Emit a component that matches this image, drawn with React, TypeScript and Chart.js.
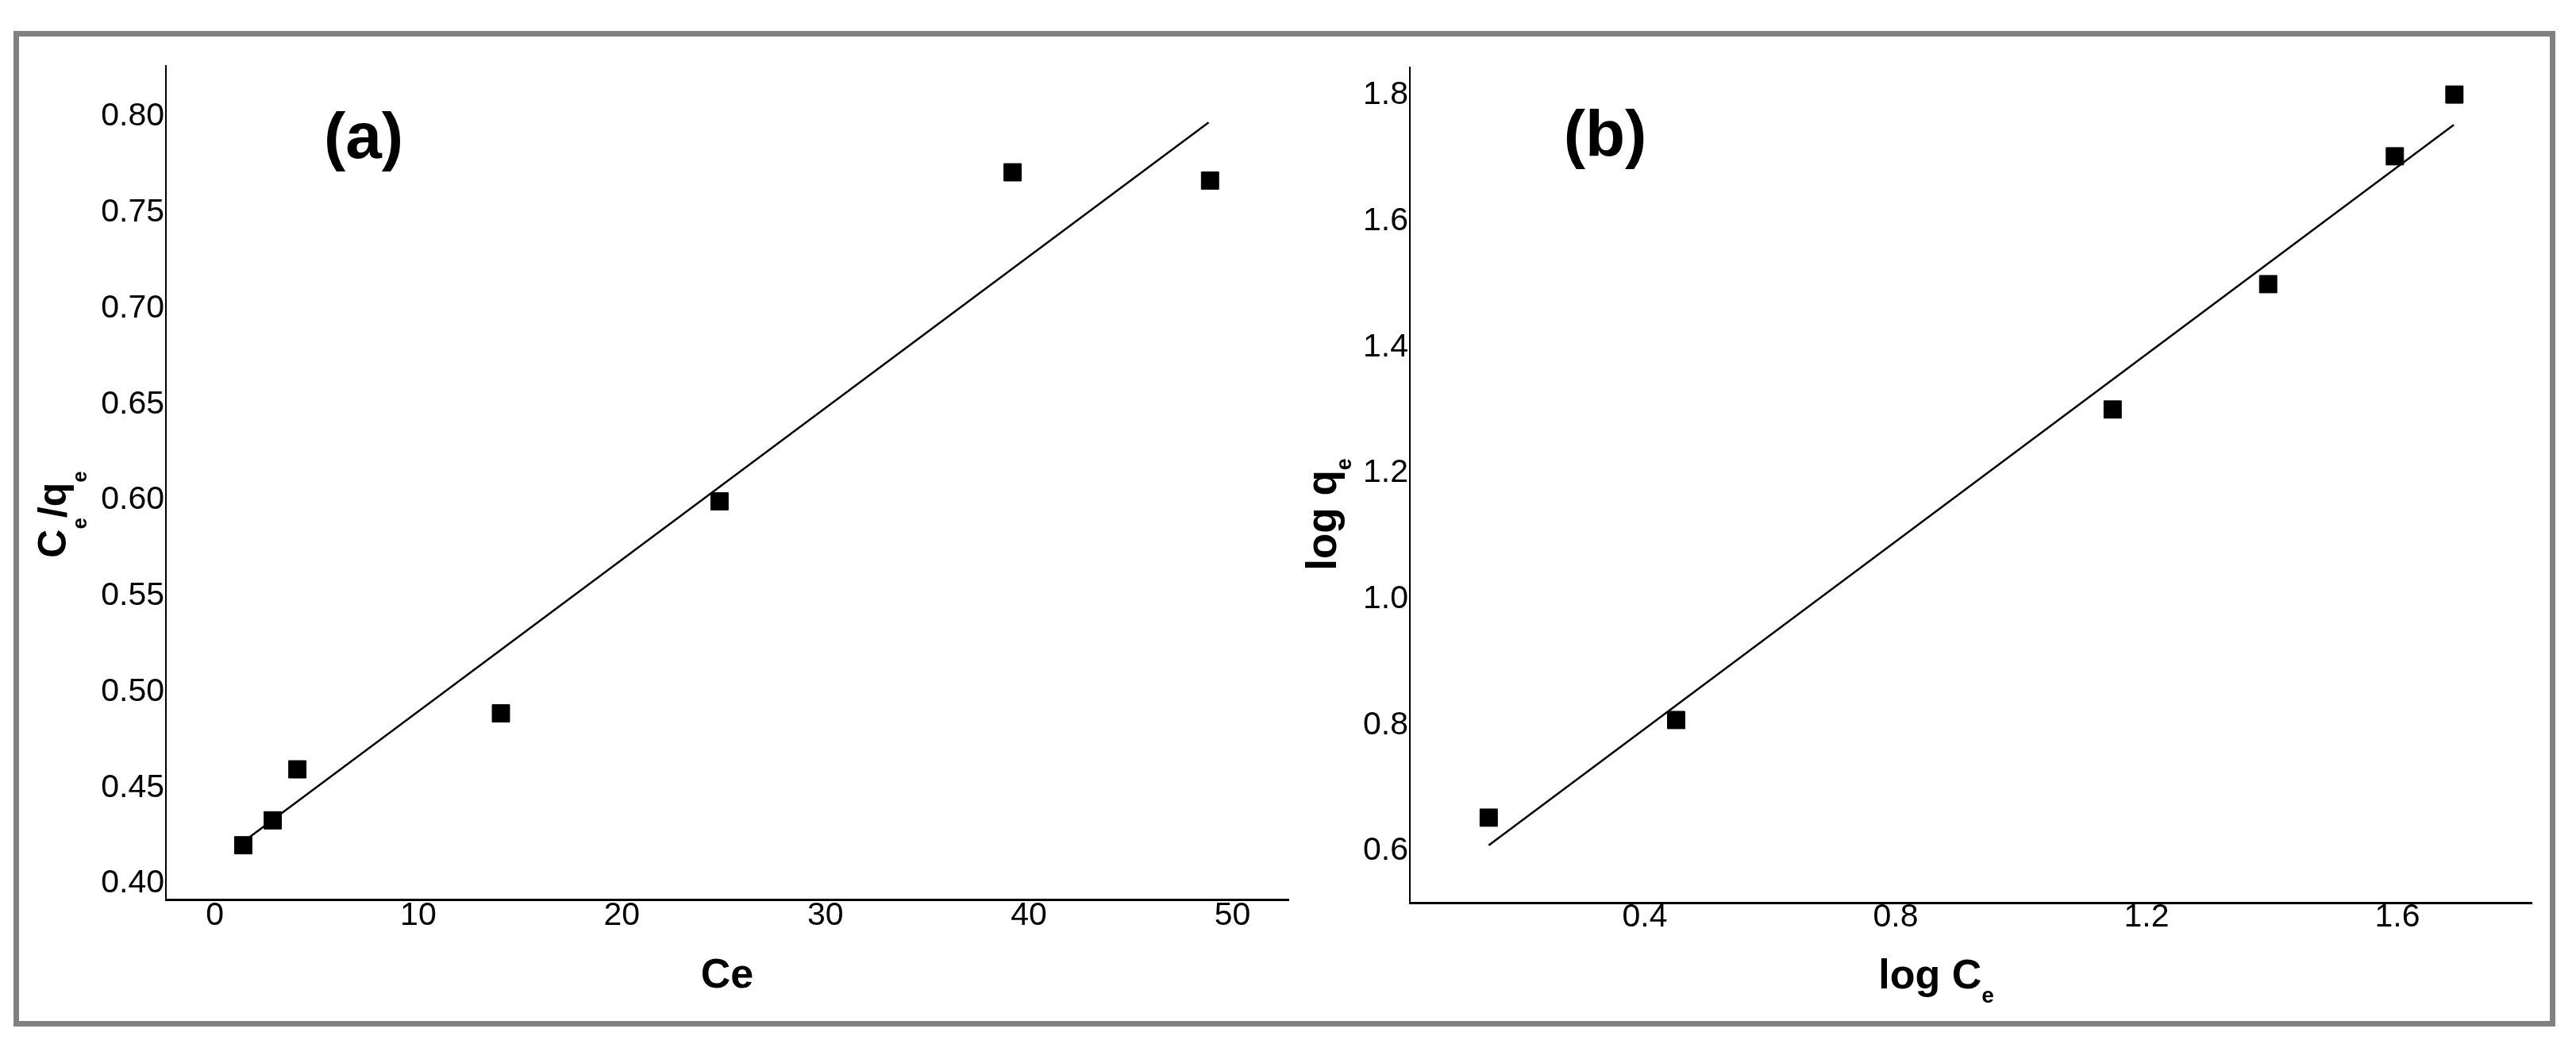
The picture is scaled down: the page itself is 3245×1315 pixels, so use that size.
import React, { useEffect, useRef } from 'react';
import { Chart, registerables } from 'chart.js';

Chart.register(...registerables);

const FONT = '"Liberation Sans", Arial, Helvetica, sans-serif';

// ---- Panel (a): Langmuir ----
const langmuirCe = [1.4, 2.85, 4.06, 14.06, 24.8, 39.2, 48.9];
const langmuirCeQe = [0.42, 0.433, 0.4596, 0.4888, 0.5994, 0.771, 0.7667];
const langmuirFitX = [1.64, 48.83];
const langmuirFitY = [0.4237, 0.797];
const langmuirXTicks = [0, 10, 20, 30, 40, 50];
const langmuirYTicks = [0.4, 0.45, 0.5, 0.55, 0.6, 0.65, 0.7, 0.75, 0.8];

// ---- Panel (b): Freundlich ----
const freundlichLogCe = [0.151, 0.45, 1.146, 1.394, 1.596, 1.691];
const freundlichLogQe = [0.653, 0.808, 1.301, 1.5, 1.703, 1.801];
const freundlichFitX = [0.151, 1.69];
const freundlichFitY = [0.609, 1.753];
const freundlichXTicks = [0.4, 0.8, 1.2, 1.6];
const freundlichYTicks = [0.6, 0.8, 1.0, 1.2, 1.4, 1.6, 1.8];

type Seg = { t: string; sub?: boolean };
type TextSpec = {
  segs: Seg[];
  x: number;
  y: number;
  size: number;
  subSize?: number;
  subDrop?: number;
  rotate?: boolean;
};

function drawRich(ctx: CanvasRenderingContext2D, spec: TextSpec) {
  ctx.save();
  ctx.fillStyle = '#000';
  ctx.textBaseline = 'alphabetic';
  ctx.textAlign = 'left';
  const fMain = `bold ${spec.size}px ${FONT}`;
  const fSub = `bold ${spec.subSize || spec.size}px ${FONT}`;
  let total = 0;
  const widths = spec.segs.map((s) => {
    ctx.font = s.sub ? fSub : fMain;
    const w = ctx.measureText(s.t).width;
    total += w;
    return w;
  });
  ctx.translate(spec.x, spec.y);
  if (spec.rotate) ctx.rotate(-Math.PI / 2);
  let cx = -total / 2;
  spec.segs.forEach((s, i) => {
    ctx.font = s.sub ? fSub : fMain;
    ctx.fillText(s.t, cx, s.sub ? spec.subDrop || 0 : 0);
    cx += widths[i];
  });
  ctx.restore();
}

type PanelProps = {
  left: number;
  width: number;
  xData: number[];
  yData: number[];
  fitX: number[];
  fitY: number[];
  xTicks: number[];
  yTicks: number[];
  xMin: number;
  xMax: number;
  yMin: number;
  yMax: number;
  xFmt: (v: number) => string;
  yFmt: (v: number) => string;
  yAxisWidth: number;
  padRight: number;
  padTop: number;
  padBottom: number;
  xLabelPad: number;
  texts: TextSpec[];
};

function Panel(p: PanelProps) {
  const ref = useRef<HTMLCanvasElement | null>(null);
  useEffect(() => {
    if (!ref.current) return;
    const textPlugin = {
      id: 'richText',
      afterDraw(chart: any) {
        p.texts.forEach((t) => drawRich(chart.ctx, t));
      },
    };
    const chart = new Chart(ref.current, {
      type: 'scatter',
      data: {
        datasets: [
          {
            data: p.xData.map((x, i) => ({ x, y: p.yData[i] })),
            pointStyle: 'rect',
            pointRadius: 15.5,
            pointBackgroundColor: '#000',
            pointBorderColor: '#000',
            pointBorderWidth: 1,
            showLine: false,
          },
          {
            data: p.fitX.map((x, i) => ({ x, y: p.fitY[i] })),
            showLine: true,
            pointRadius: 0,
            borderColor: '#000',
            borderWidth: 2.5,
            fill: false,
          },
        ],
      },
      options: {
        animation: false,
        responsive: false,
        maintainAspectRatio: false,
        layout: {
          padding: { left: 0, right: p.padRight, top: p.padTop, bottom: p.padBottom },
        },
        plugins: { legend: { display: false }, tooltip: { enabled: false } },
        scales: {
          x: {
            type: 'linear',
            min: p.xMin,
            max: p.xMax,
            grid: { display: false, drawTicks: false },
            border: { display: true, color: '#000', width: 3 },
            afterBuildTicks: (s: any) => {
              s.ticks = p.xTicks.map((v) => ({ value: v }));
            },
            afterFit: (s: any) => {
              s.height = 100;
            },
            ticks: {
              color: '#000',
              padding: p.xLabelPad,
              maxRotation: 0,
              autoSkip: false,
              font: { family: FONT, size: 41, lineHeight: 1 },
              callback: (v: any) => p.xFmt(Number(v)),
            },
          },
          y: {
            type: 'linear',
            min: p.yMin,
            max: p.yMax,
            grid: { display: false, drawTicks: false },
            border: { display: true, color: '#000', width: 2 },
            afterBuildTicks: (s: any) => {
              s.ticks = p.yTicks.map((v) => ({ value: v }));
            },
            afterFit: (s: any) => {
              s.width = p.yAxisWidth;
            },
            ticks: {
              color: '#000',
              padding: 2,
              autoSkip: false,
              font: { family: FONT, size: 41, lineHeight: 1 },
              callback: (v: any) => p.yFmt(Number(v)),
            },
          },
        },
      } as any,
      plugins: [textPlugin],
    });
    return () => chart.destroy();
  }, []);
  return (
    <canvas
      ref={ref}
      width={p.width}
      height={1315}
      style={{ position: 'absolute', left: p.left, top: 0, width: p.width, height: 1315 }}
    />
  );
}

export default function App() {
  const bLeft = 1630;
  return (
    <div
      style={{
        position: 'absolute',
        left: 0,
        top: 0,
        width: 3245,
        height: 1315,
        background: '#fff',
        overflow: 'hidden',
      }}
    >
      <div
        style={{
          position: 'absolute',
          left: 17,
          top: 39,
          width: 3202,
          height: 1254,
          border: '7px solid #808080',
          boxSizing: 'border-box',
        }}
      />
      <Panel
        left={0}
        width={1640}
        xData={langmuirCe}
        yData={langmuirCeQe}
        fitX={langmuirFitX}
        fitY={langmuirFitY}
        xTicks={langmuirXTicks}
        yTicks={langmuirYTicks}
        xMin={-2.4}
        xMax={52.77}
        yMin={0.3917}
        yMax={0.8265}
        xFmt={(v) => String(v)}
        yFmt={(v) => v.toFixed(2)}
        yAxisWidth={209}
        padRight={16}
        padTop={83}
        padBottom={82}
        xLabelPad={0}
        texts={[
          { segs: [{ t: '(a)' }], x: 458, y: 199, size: 82 },
          { segs: [{ t: 'Ce' }], x: 916, y: 1244, size: 52 },
          {
            segs: [{ t: 'C' }, { t: 'e', sub: true }, { t: '/' }, { t: 'q' }, { t: 'e', sub: true }],
            x: 83,
            y: 648,
            size: 50,
            subSize: 26,
            subDrop: 26,
            rotate: true,
          },
        ]}
      />
      <Panel
        left={bLeft}
        width={1615}
        xData={freundlichLogCe}
        yData={freundlichLogQe}
        fitX={freundlichFitX}
        fitY={freundlichFitY}
        xTicks={freundlichXTicks}
        yTicks={freundlichYTicks}
        xMin={0.0253}
        xMax={1.814}
        yMin={0.518}
        yMax={1.844}
        xFmt={(v) => v.toFixed(1)}
        yFmt={(v) => v.toFixed(1)}
        yAxisWidth={146}
        padRight={56}
        padTop={85}
        padBottom={78}
        xLabelPad={-2}
        texts={[
          { segs: [{ t: '(b)' }], x: 2022 - bLeft, y: 196, size: 82 },
          {
            segs: [{ t: 'log C' }, { t: 'e', sub: true }],
            x: 2439 - bLeft,
            y: 1245,
            size: 52,
            subSize: 28,
            subDrop: 18,
          },
          {
            segs: [{ t: 'log q' }, { t: 'e', sub: true }],
            x: 1683 - bLeft,
            y: 648,
            size: 53,
            subSize: 27,
            subDrop: 19,
            rotate: true,
          },
        ]}
      />
    </div>
  );
}
